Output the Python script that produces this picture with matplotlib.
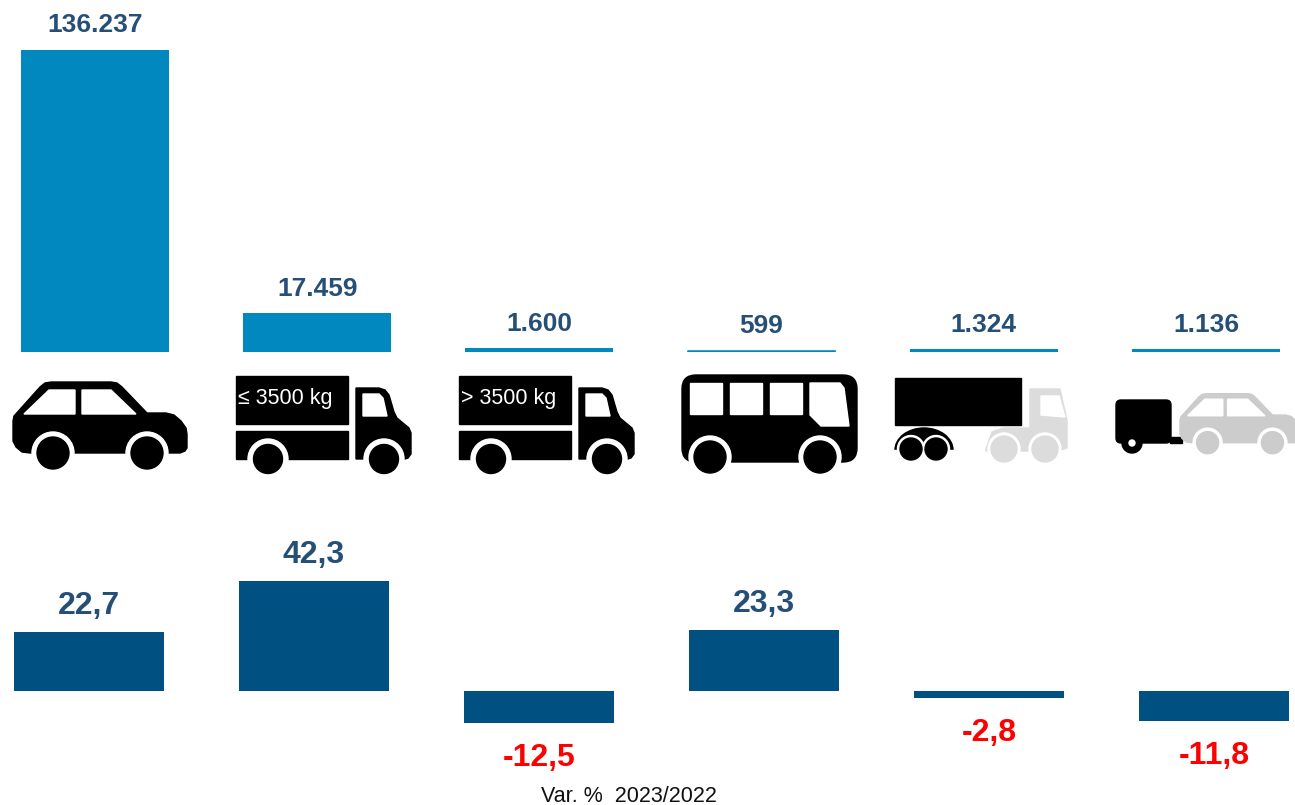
import matplotlib
matplotlib.use('Agg')
import matplotlib.pyplot as plt
from matplotlib.patches import Polygon, Rectangle, Circle, Ellipse, FancyBboxPatch

plt.rcParams['font.family'] = ['Liberation Sans', 'DejaVu Sans']

# data
vehicles = ['car', 'van', 'truck', 'bus', 'tractor', 'trailer']
registrations = [136237, 17459, 1600, 599, 1324, 1136]
registrations_labels = ['136.237', '17.459', '1.600', '599', '1.324', '1.136']
change_pct = [22.7, 42.3, -12.5, 23.3, -2.8, -11.8]
change_labels = ['22,7', '42,3', '-12,5', '23,3', '-2,8', '-11,8']

W, H = 1295, 805
TOP_BLUE = '#0088BF'
DARK_BLUE = '#005082'
LABEL_BLUE = '#264F78'


def px_axes(fig, left, top, right, bottom):
    return fig.add_axes([left / W, 1 - bottom / H, (right - left) / W, (bottom - top) / H])


fig = plt.figure(figsize=(W / 100, H / 100), dpi=100)

# upper bars, one unit on x is one column
ax1 = px_axes(fig, 0, 0, W, 352)
bars = ax1.bar(range(6), registrations, width=148 / 222.2, color=TOP_BLUE, linewidth=0)
# the smallest bar is barely a pixel high, keep it from fading to grey
bars[3].set_snap(False)
bars[3].set_edgecolor(TOP_BLUE)
bars[3].set_linewidth(0.5)
ax1.set_xlim(-95 / 222.2, (W - 95) / 222.2)
ax1.set_ylim(0, 136237 * 352 / 302)
ax1.axis('off')
for i, (v, lab) in enumerate(zip(registrations, registrations_labels)):
    ax1.annotate(lab, (i, v), xytext=(0, 24.5), textcoords='offset pixels', ha='center',
                 va='center', fontsize=19, fontweight='bold',
                 color=LABEL_BLUE, annotation_clip=False)

# lower bars
ax2 = px_axes(fig, 0, 540, W, 790)
ax2.bar(range(6), change_pct, width=150 / 225, color=DARK_BLUE)
ax2.set_xlim(-89 / 225, (W - 89) / 225)
ax2.set_ylim((690.5 - 790) / 2.58, (690.5 - 540) / 2.58)
ax2.axis('off')
for i, (v, lab) in enumerate(zip(change_pct, change_labels)):
    ax2.annotate(lab, (i, v), xytext=(0, 26 if v > 0 else -35), textcoords='offset pixels',
                 ha='center', va='center', fontsize=23, fontweight='bold',
                 color=LABEL_BLUE if v > 0 else 'red', annotation_clip=False)

fig.text(628.5 / W, 1 - 796.5 / H, 'Var. %  2023/2022', ha='center', va='center',
         fontsize=15.5, color='#111111')

# icons, drawn in image pixels
ic = fig.add_axes([0, 0, 1, 1])
ic.set_xlim(0, W)
ic.set_ylim(H, 0)
ic.axis('off')
ic.patch.set_alpha(0)


def wheel(cx, cy, r, ring, color='black'):
    ic.add_patch(Circle((cx, cy), ring, color='white', zorder=3))
    ic.add_patch(Circle((cx, cy), r, color=color, zorder=4))


def draw_car(x0, y0, s, color):
    pts = [(0, 40), (1, 35), (27, 6), (32, 2), (38, 1), (98, 1), (104, 2), (109, 6), (134, 32),
           (153, 32), (161, 34), (168, 40), (173, 47), (174, 53), (174, 67), (172, 70),
           (167, 72), (17, 72), (9, 71), (3, 66), (0, 60)]
    win1 = [(11, 33), (36, 9), (62, 9), (62, 33)]
    win2 = [(69, 9), (98, 9), (123, 33), (69, 33)]
    f = lambda p: [(x0 + s * a, y0 + s * b) for a, b in p]
    ic.add_patch(Polygon(f(pts), color=color, zorder=2))
    ic.add_patch(Polygon(f(win1), color='white', zorder=3))
    ic.add_patch(Polygon(f(win2), color='white', zorder=3))
    wheel(x0 + 40 * s, y0 + 72 * s, 16 * s, 21 * s, color)
    wheel(x0 + 134 * s, y0 + 72 * s, 16 * s, 21 * s, color)


def draw_van(x0, label):
    ic.add_patch(Rectangle((x0, 376), 112, 48, color='black', zorder=2))
    ic.add_patch(Rectangle((x0, 431), 112, 28, color='black', zorder=2))
    cab = [(120, 388), (143, 388), (149, 390), (153, 395), (158, 412), (161, 418), (173, 428),
           (175, 433), (175, 454), (172, 458), (169, 459), (120, 459)]
    ic.add_patch(Polygon([(x0 + a, b) for a, b in cab], color='black', zorder=2))
    win = [(127, 394), (143, 394), (147, 398), (151, 416), (127, 416)]
    ic.add_patch(Polygon([(x0 + a, b) for a, b in win], color='white', zorder=3))
    wheel(x0 + 32, 459, 14.5, 20)
    wheel(x0 + 148, 459, 14.5, 20)
    ic.text(x0 + 2, 398, label, color='white', fontsize=15.5, va='center', ha='left', zorder=5)


draw_car(13, 381, 1, 'black')
draw_van(236, '≤ 3500 kg')
draw_van(459, '> 3500 kg')

# bus
ic.add_patch(FancyBboxPatch((690, 383), 159, 71, boxstyle='round,pad=8,rounding_size=14',
                            color='black', zorder=2))
for wx in [690, 730, 770]:
    ic.add_patch(Rectangle((wx, 383), 32, 31, color='white', zorder=3))
ic.add_patch(Polygon([(810, 383), (840, 383), (844, 388), (849, 426), (821, 426), (810, 415)],
                     color='white', zorder=3))
wheel(710, 457, 16, 21)
wheel(820, 457, 16, 21)

# tractor unit with black semi-trailer
GREY = '#DCDCDC'
ic.add_patch(Rectangle((895, 378), 126, 47, color='black', zorder=2))
ic.add_patch(Polygon([(986, 449), (992, 432), (1003, 428), (1030, 428), (1030, 389),
                      (1060, 389), (1067, 420), (1067, 448), (1058, 451), (986, 451)],
                     color=GREY, zorder=2))
ic.add_patch(Polygon([(1041, 396), (1059, 396), (1065, 417), (1041, 415)], color='white', zorder=3))
wheel(1004, 449, 13, 16, GREY)
wheel(1045, 449, 13, 16, GREY)
ic.add_patch(Ellipse((924, 450), 58, 44, color='black', zorder=2))
ic.add_patch(Rectangle((890, 450), 70, 26, color='white', zorder=2.5))
wheel(911, 449, 11, 13.5)
wheel(936, 449, 11, 13.5)

# trailer behind a grey car
ic.add_patch(FancyBboxPatch((1119, 403), 49, 37, boxstyle='round,pad=3,rounding_size=5',
                            color='black', zorder=2))
ic.add_patch(Rectangle((1170, 437), 12, 6, color='black', zorder=2))
ic.add_patch(Circle((1132, 443), 10, color='black', zorder=3))
ic.add_patch(Circle((1132, 443), 3, color='white', zorder=4))
draw_car(1180, 393, 0.69, '#CCCCCC')

fig.savefig('out.png', dpi=100)
